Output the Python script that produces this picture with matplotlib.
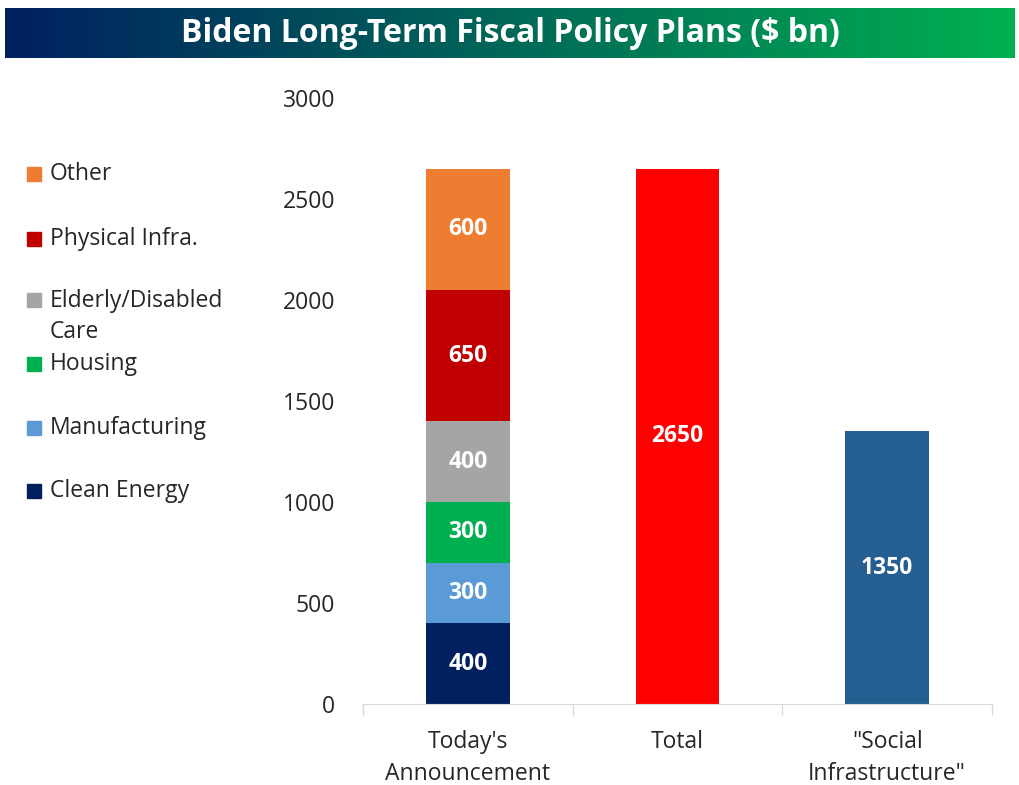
import matplotlib
matplotlib.use("Agg")
import matplotlib.pyplot as plt
import numpy as np
from matplotlib.patches import Rectangle
from matplotlib.colors import LinearSegmentedColormap

plt.rcParams['font.family'] = ['Open Sans', 'DejaVu Sans']

# ---- data ----
categories = ["Today's\nAnnouncement", "Total", "\"Social\nInfrastructure\""]
segment_names = ["Clean Energy", "Manufacturing", "Housing", "Elderly/Disabled\nCare", "Physical Infra.", "Other"]
segment_values = [400, 300, 300, 400, 650, 600]
segment_colors = ["#002060", "#5B9BD5", "#00B050", "#A5A5A5", "#C00000", "#ED7D31"]
total_value = 2650
social_value = 1350
total_color = "#FF0000"
social_color = "#255E91"
yticks = [0, 500, 1000, 1500, 2000, 2500, 3000]

W, H = 1019, 785
fig = plt.figure(figsize=(W/100, H/100), dpi=100)

# title bar with gradient
tax = fig.add_axes([5/W, 1-58/H, 1010/W, 50/H])
grad = np.linspace(0, 1, 256).reshape(1, -1)
cmap = LinearSegmentedColormap.from_list("tb", ["#002060", "#00B050"])
tax.imshow(grad, aspect='auto', cmap=cmap, extent=[0, 1, 0, 1])
tax.set_xlim(0, 1); tax.set_ylim(0, 1)
tax.axis('off')
tax.text(0.5, 0.5, "Biden Long-Term Fiscal Policy Plans ($ bn)", color='white',
         fontsize=23, fontweight='bold', ha='center', va='center')

ax = fig.add_axes([363/W, 1-704/H, (992-363)/W, (704-98)/H])
x = np.arange(len(categories))
width = 0.4
lbl_fs = 16.5
bottom = 0
for v, c in zip(segment_values, segment_colors):
    ax.bar(x[0], v, width, bottom=bottom, color=c)
    ax.text(x[0], bottom + v/2, f"{v}", color='white', fontweight='bold',
            fontsize=lbl_fs, ha='center', va='center')
    bottom += v
ax.bar(x[1], total_value, width, color=total_color)
ax.text(x[1], total_value/2, f"{total_value}", color='white', fontweight='bold',
        fontsize=lbl_fs, ha='center', va='center')
ax.bar(x[2], social_value, width, color=social_color)
ax.text(x[2], social_value/2, f"{social_value}", color='white', fontweight='bold',
        fontsize=lbl_fs, ha='center', va='center')

ax.set_xlim(-0.5, len(categories) - 0.5)
ax.set_ylim(0, 3000)
ax.set_yticks(yticks)
ax.set_yticklabels([str(t) for t in yticks], fontsize=16.5, color='#262626')
ax.tick_params(axis='y', length=0, pad=20)
ax.set_xticks(x)
ax.set_xticklabels(categories, fontsize=16.5, color='#262626', linespacing=1.4)
ax.set_xticks(np.arange(-0.5, len(categories)), minor=True)
ax.tick_params(axis='x', which='major', length=0, pad=19)
ax.tick_params(axis='x', which='minor', length=8, color='#D9D9D9', width=1)
for s in ['top', 'right', 'left']:
    ax.spines[s].set_visible(False)
ax.spines['bottom'].set_color('#D9D9D9')

# legend (manual, top = Other)
leg_y = [174, 239, 300, 364, 428, 491]
line_px = 33
names_rev = segment_names[::-1]
colors_rev = segment_colors[::-1]
for i, (n, c) in enumerate(zip(names_rev, colors_rev)):
    yy = 1 - leg_y[i]/H
    nlines = n.count('\n') + 1
    fig.patches.append(Rectangle((27/W, yy - 7/H), 14/W, 14/H,
                                 transform=fig.transFigure, color=c))
    fig.text(50/W, yy - (nlines-1)*line_px/2/H, n, fontsize=16.5, color='#262626',
             va='center', linespacing=1.4)

fig.savefig("out.png", dpi=100)
